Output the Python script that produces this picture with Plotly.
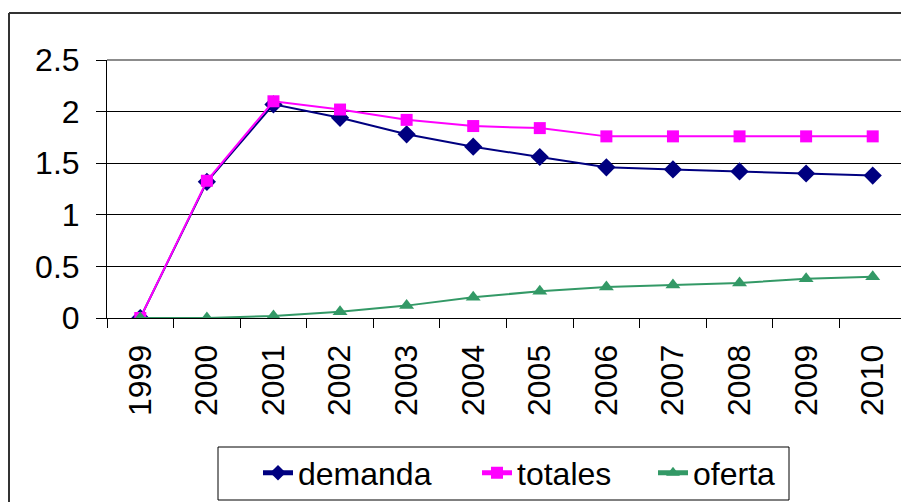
import plotly.graph_objects as go

years = ["1999", "2000", "2001", "2002", "2003", "2004", "2005", "2006", "2007", "2008", "2009", "2010"]
demanda = [0.0, 1.32, 2.07, 1.94, 1.78, 1.66, 1.56, 1.46, 1.44, 1.42, 1.40, 1.38]
totales = [0.0, 1.33, 2.10, 2.02, 1.92, 1.86, 1.84, 1.76, 1.76, 1.76, 1.76, 1.76]
oferta = [0.0, 0.0, 0.02, 0.06, 0.12, 0.20, 0.26, 0.30, 0.32, 0.34, 0.38, 0.40]
y_ticks = [0, 0.5, 1, 1.5, 2, 2.5]
y_tick_labels = ["0", "0.5", "1", "1.5", "2", "2.5"]

FONT = "Liberation Sans, Arial, sans-serif"
OFF = 8  # page body margin
W, H = 909 - OFF, 502 - OFF
# plot area in page pixels: x 107..906, y 60..318
L, T = 107 - OFF, 60 - OFF
R = W - (906 - OFF)
B = H - (318 - OFF)
PW, PH = W - L - R, H - T - B


def px_x(p):
    return (p - OFF - L) / PW


def px_y(p):
    return (H - B - (p - OFF)) / PH


fig = go.Figure()
fig.add_trace(go.Scatter(x=years, y=demanda, name="demanda", mode="lines+markers",
                         line=dict(color="#000080", width=2),
                         marker=dict(symbol="diamond", size=14, color="#000080"),
                         legend="legend"))
fig.add_trace(go.Scatter(x=years, y=totales, name="totales", mode="lines+markers",
                         line=dict(color="#FF00FF", width=2),
                         marker=dict(symbol="square", size=12, color="#FF00FF"),
                         legend="legend2"))
fig.add_trace(go.Scatter(x=years, y=oferta, name="oferta", mode="lines+markers",
                         line=dict(color="#339966", width=2),
                         marker=dict(symbol="triangle-up", size=13, color="#339966"),
                         legend="legend3"))

leg_common = dict(orientation="h", xref="container", yref="container", xanchor="left",
                  yanchor="middle", y=1 - (473 - OFF) / H, bgcolor="rgba(0,0,0,0)", borderwidth=0,
                  font=dict(family=FONT, size=32, color="black"), itemsizing="constant")

fig.update_layout(
    width=W, height=H,
    margin=dict(l=L, r=R, t=T, b=B, autoexpand=False),
    paper_bgcolor="white", plot_bgcolor="white",
    font=dict(family=FONT, size=32, color="black"),
    showlegend=True,
    legend=dict(leg_common, x=(298 - 40 - OFF) / W),
    legend2=dict(leg_common, x=(517 - 40 - OFF) / W),
    legend3=dict(leg_common, x=(693 - 40 - OFF) / W),
    xaxis=dict(type="category", showgrid=False, showline=True, linecolor="black", linewidth=1,
               ticks="outside", ticklen=9, tickcolor="black", tickson="boundaries",
               tickangle=-90, ticklabelstandoff=13, automargin=False,
               tickfont=dict(family=FONT, size=32, color="black"),
               range=[-0.5, 11.5], zeroline=False),
    yaxis=dict(range=[0, 2.5], tickvals=y_ticks, ticktext=y_tick_labels,
               showgrid=True, gridcolor="black", gridwidth=1,
               showline=True, linecolor="black", linewidth=1, automargin=False,
               ticks="outside", ticklen=10, tickcolor="black", ticklabelstandoff=10,
               tickfont=dict(family=FONT, size=32, color="black"),
               zeroline=False),
    shapes=[
        # plot-area frame (grey top/right)
        dict(type="line", xref="paper", yref="paper", x0=0, x1=1, y0=1, y1=1,
             line=dict(color="#8c8c8c", width=2), layer="above"),
        dict(type="line", xref="paper", yref="paper", x0=1, x1=1, y0=0, y1=1,
             line=dict(color="#8c8c8c", width=2), layer="above"),
        # outer chart frame
        dict(type="line", xref="paper", yref="paper", x0=px_x(9), x1=px_x(915), y0=px_y(13), y1=px_y(13),
             line=dict(color="#333333", width=2), layer="above"),
        dict(type="line", xref="paper", yref="paper", x0=px_x(9), x1=px_x(9), y0=px_y(13), y1=px_y(510),
             line=dict(color="#333333", width=2), layer="above"),
        # legend box
        dict(type="rect", xref="paper", yref="paper", x0=px_x(218), x1=px_x(789), y0=px_y(447), y1=px_y(500),
             line=dict(color="black", width=1), fillcolor="rgba(0,0,0,0)", layer="above"),
    ],
)

fig.write_html("out.html")
